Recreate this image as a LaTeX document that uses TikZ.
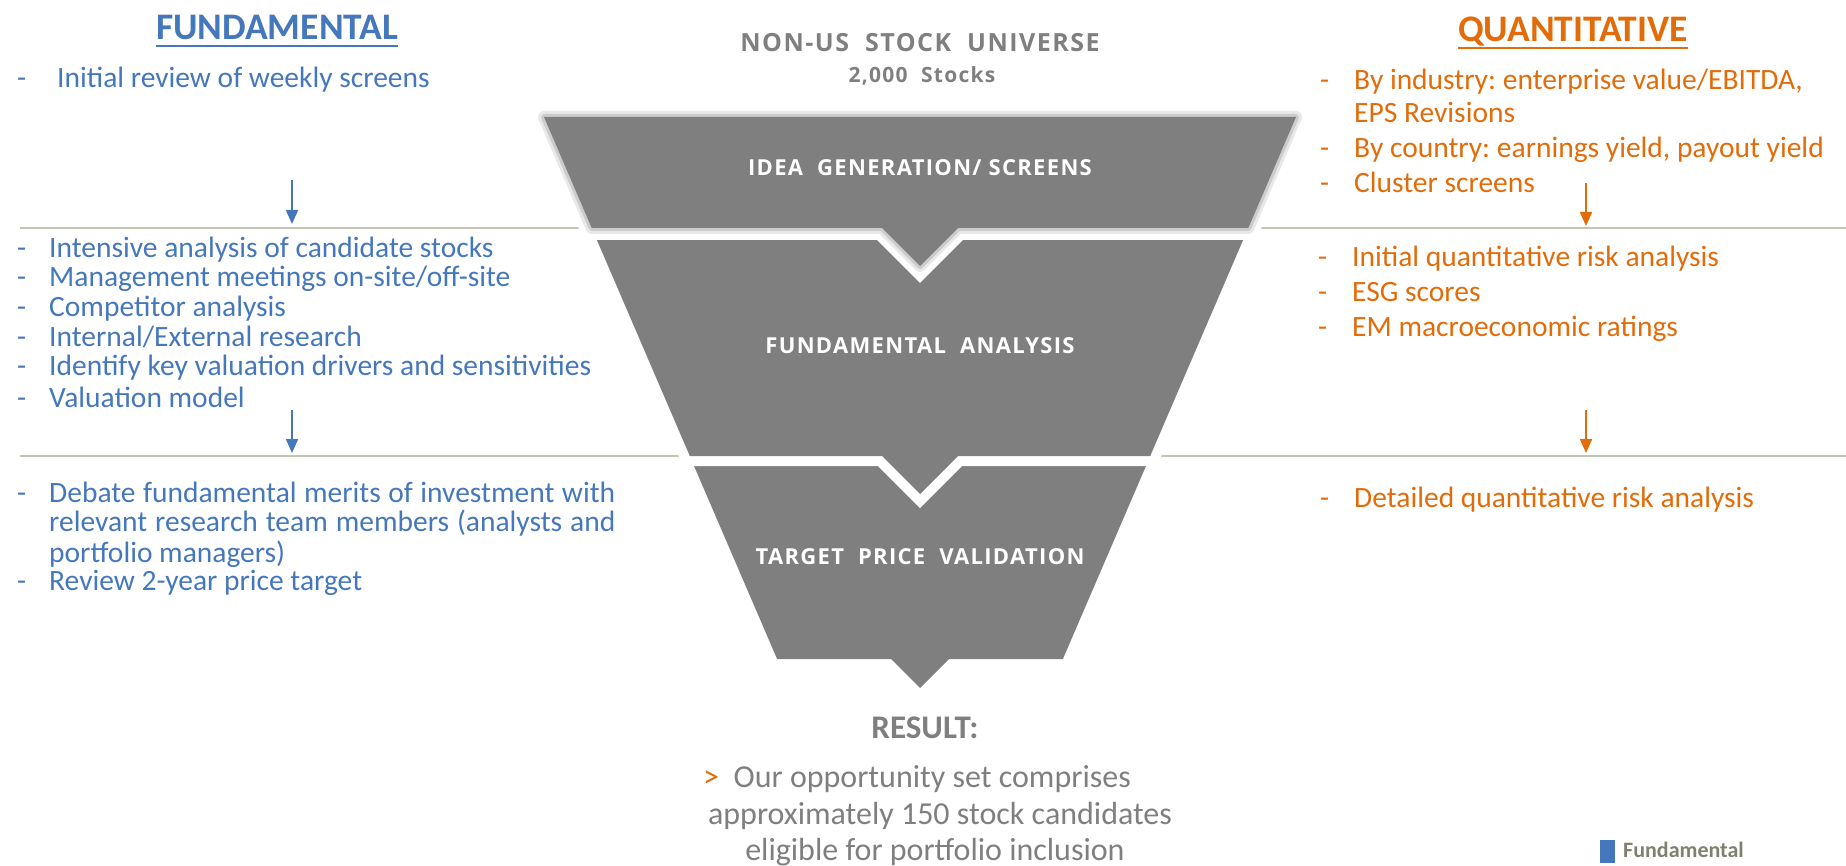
\documentclass[tikz,border=0pt]{standalone}
\usepackage{fontspec}
\setmainfont{Carlito}
\newfontfamily\ctrfont{Open Sans}[LetterSpace=6]
\usetikzlibrary{arrows.meta,calc}

\definecolor{fundblue}{HTML}{4577BD}
\definecolor{quantorange}{HTML}{E36C0A}
\definecolor{funnelgray}{HTML}{7F7F7F}
\definecolor{rulegray}{HTML}{C4C6B4}
\definecolor{labelgray}{HTML}{7F7F7F}
\definecolor{legendgray}{HTML}{7F8070}

\tikzset{
  body/.style={anchor=base west, inner sep=0pt, font=\fontsize{29.5}{34}\selectfont},
  fundtxt/.style={body, text=fundblue},
  quanttxt/.style={body, text=quantorange},
  title/.style={anchor=base, inner sep=0pt, font=\fontsize{37.5}{42}\selectfont\bfseries},
  stagelabel/.style={anchor=base, inner sep=0pt, text=white, font=\ctrfont\fontsize{22}{26}\selectfont\bfseries},
  seprule/.style={draw=rulegray, line width=2.5pt},
  funnelpart/.style={fill=funnelgray},
  gapline/.style={draw=white, line width=#1, line join=miter},
  flowarrow/.style={line width=2pt, -{Triangle[length=14pt,width=12pt]}},
  result/.style={anchor=base, inner sep=0pt, text=labelgray, font=\fontsize{32}{38}\selectfont}
}

\begin{document}
\begin{tikzpicture}[x=1pt,y=-1pt]
\useasboundingbox (0,0) rectangle (1846,866);

% stage separators
\draw[seprule] (20,228) -- (1846,228);
\draw[seprule] (20,456) -- (1846,456);

% funnel, bottom part first so upper parts overlap it
\path[funnelpart] (693.6,465) -- (1146.4,465) -- (1062.9,659) -- (949,659) -- (920,688) -- (891,659) -- (777.1,659) -- cycle;

\path[gapline=20pt] (596.9,240) -- (1243.1,240) -- (1150.2,456) -- (958,456) -- (920,494) -- (882,456) -- (689.8,456) -- cycle;
\path[funnelpart] (596.9,240) -- (1243.1,240) -- (1150.2,456) -- (958,456) -- (920,494) -- (882,456) -- (689.8,456) -- cycle;

\path[gapline=24pt] (544,117) -- (1296,117) -- (1248.3,228) -- (958,228) -- (920,266) -- (882,228) -- (591.7,228) -- cycle;
\path[draw=gray!18, line width=12pt, line join=round] (544,117) -- (1296,117) -- (1248.3,228) -- (958,228) -- (920,266) -- (882,228) -- (591.7,228) -- cycle;
\path[draw=gray!40, line width=6pt, line join=round] (544,117) -- (1296,117) -- (1248.3,228) -- (958,228) -- (920,266) -- (882,228) -- (591.7,228) -- cycle;
\path[funnelpart] (544,117) -- (1296,117) -- (1248.3,228) -- (958,228) -- (920,266) -- (882,228) -- (591.7,228) -- cycle;

% stage labels
\node[stagelabel] (s1) at (920,176) {IDEA\ \ GENERATION/ SCREENS};
\node[stagelabel] (s2) at (920,353) {FUNDAMENTAL\ \ ANALYSIS};
\node[stagelabel] (s3) at (920,564) {TARGET\ \ PRICE\ \ VALIDATION};

% universe heading
\node[anchor=base, inner sep=0pt, text=labelgray, font=\ctrfont\fontsize{25}{30}\selectfont\bfseries] (uni) at (920,52) {NON-US\ \ STOCK\ \ UNIVERSE};
\node[anchor=base, inner sep=0pt, text=labelgray, font=\ctrfont\fontsize{21}{26}\selectfont\bfseries] (cnt) at (922,83) {2,000\ \ Stocks};

% column titles
\node[title, text=fundblue] (ft) at (277,40) {FUNDAMENTAL};
\draw[fundblue, line width=2.6pt] ($(ft.base west)+(0,6)$) -- ($(ft.base east)+(0,6)$);
\node[title, text=quantorange] (qt) at (1573,42) {QUANTITATIVE};
\draw[quantorange, line width=2.6pt] ($(qt.base west)+(0,6)$) -- ($(qt.base east)+(0,6)$);

% fundamental column
\node[fundtxt] (fd0) at (17,88) {-};
\node[fundtxt] (f0) at (57,88) {Initial review of weekly screens};

\node[fundtxt] (fd1) at (17,258) {-};
\node[fundtxt] (f1) at (49,258) {Intensive analysis of candidate stocks};
\node[fundtxt] (fd2) at (17,287) {-};
\node[fundtxt] (f2) at (49,287) {Management meetings on-site/off-site};
\node[fundtxt] (fd3) at (17,317) {-};
\node[fundtxt] (f3) at (49,317) {Competitor analysis};
\node[fundtxt] (fd4) at (17,346) {-};
\node[fundtxt] (f4) at (49,346) {Internal/External research};
\node[fundtxt] (fd5) at (17,375) {-};
\node[fundtxt] (f5) at (49,375) {Identify key valuation drivers and sensitivities};
\node[fundtxt] (fd6) at (17,407) {-};
\node[fundtxt] (f6) at (49,407) {Valuation model};

\node[fundtxt] (fd7) at (17,502) {-};
\node[fundtxt] (f7a) at (49,502) {\makebox[566pt][s]{Debate fundamental merits of investment with}};
\node[fundtxt] (f7b) at (49,531) {\makebox[566pt][s]{relevant research team members (analysts and}};
\node[fundtxt] (f7c) at (49,562) {portfolio managers)};
\node[fundtxt] (fd8) at (17,590) {-};
\node[fundtxt] (f8) at (49,590) {Review 2-year price target};

% quantitative column
\node[quanttxt] (qd1) at (1320,90) {-};
\node[quanttxt] (q1a) at (1354,90) {By industry:\hspace{-2pt} enterprise value/EBITDA,};
\node[quanttxt] (q1b) at (1354,123) {EPS Revisions};
\node[quanttxt] (qd2) at (1320,158) {-};
\node[quanttxt] (q2) at (1354,158) {By country:\hspace{-2pt} earnings yield, payout yield};
\node[quanttxt] (qd3) at (1320,193) {-};
\node[quanttxt] (q3) at (1354,193) {Cluster screens};

\node[quanttxt] (qd4) at (1318,267) {-};
\node[quanttxt] (q4) at (1352,267) {Initial quantitative risk analysis};
\node[quanttxt] (qd5) at (1318,302) {-};
\node[quanttxt] (q5) at (1352,302) {ESG scores};
\node[quanttxt] (qd6) at (1318,337) {-};
\node[quanttxt] (q6) at (1352,337) {EM macroeconomic ratings};

\node[quanttxt] (qd7) at (1320,507) {-};
\node[quanttxt] (q7) at (1354,507) {Detailed quantitative risk analysis};

% step arrows
\coordinate (fa1s) at (292,180); \coordinate (fa1e) at (292,224);
\coordinate (fa2s) at (292,410); \coordinate (fa2e) at (292,453);
\coordinate (qa1s) at (1586,183); \coordinate (qa1e) at (1586,226);
\coordinate (qa2s) at (1586,410); \coordinate (qa2e) at (1586,453);
\draw[flowarrow, fundblue] (fa1s) -- (fa1e);
\draw[flowarrow, fundblue] (fa2s) -- (fa2e);
\draw[flowarrow, quantorange] (qa1s) -- (qa1e);
\draw[flowarrow, quantorange] (qa2s) -- (qa2e);

% result
\node[result, font=\fontsize{33}{38}\selectfont\bfseries] (res) at (925,738) {RESULT:};
\node[result, anchor=base west] (r1) at (703,787) {\textcolor{quantorange}{>}\ \ Our opportunity\ set comprises};
\node[result] (r2) at (940,824) {approximately 150 stock candidates};
\node[result] (r3) at (935,860) {eligible for portfolio inclusion};

% legend
\fill[fundblue] (1600,840) rectangle (1615,863);
\node[anchor=base west, inner sep=0pt, text=legendgray, font=\fontsize{22}{26}\selectfont\bfseries] (leg) at (1623,857) {Fundamental};
\end{tikzpicture}
\end{document}
